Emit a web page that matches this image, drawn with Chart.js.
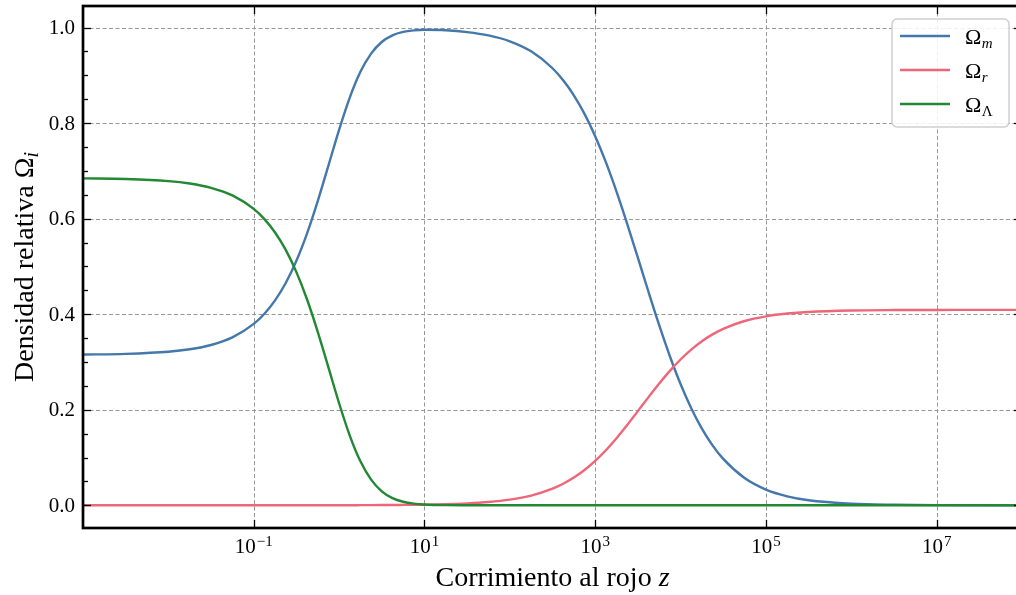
<!DOCTYPE html>
<html lang="es">
<head>
  <meta charset="UTF-8" />
  <title>Densidad relativa vs corrimiento al rojo</title>
  <script src="https://cdn.jsdelivr.net/npm/chart.js"></script>
  <style>
    html, body {
      margin: 0;
      padding: 0;
      background: #fff;
      overflow: hidden;
    }
    #wrap {
      width: 1040px;
      height: 595px;
    }
  </style>
</head>
<body>
  <div id="wrap">
    <canvas id="omegaChart" width="1040" height="595"></canvas>
  </div>

  <script>
    // redshift samples and the three density fractions
    const redshift = [
      0.001, 0.003162, 0.01, 0.01778, 0.03162, 0.05623, 0.1, 0.1334, 0.1778, 0.2371,
      0.3162, 0.4217, 0.5623, 0.7499, 1, 1.3335, 1.778, 2.371, 3.162, 4.217,
      5.623, 7.499, 10, 17.78, 31.62, 56.23, 100, 177.8, 316.2, 421.7,
      562.3, 749.9, 1000, 1334, 1778, 2371, 3162, 4217, 5623, 7499,
      10000, 13335, 17783, 23714, 31623, 56234, 100000, 177828, 316228, 1000000,
      3162278, 10000000, 100000000
    ];

    const omegaMatter = [
      0.3156, 0.3170, 0.3214, 0.3265, 0.3355, 0.3514, 0.3796, 0.4010, 0.4290, 0.4653,
      0.5117, 0.5691, 0.6366, 0.7111, 0.7859, 0.8534, 0.9072, 0.9454, 0.9696, 0.9834,
      0.9907, 0.9940, 0.9952, 0.9942, 0.9904, 0.9835, 0.9712, 0.9501, 0.9147, 0.8895,
      0.8579, 0.8192, 0.7726, 0.7182, 0.6566, 0.5892, 0.5182, 0.4464, 0.3769, 0.3120,
      0.2538, 0.2032, 0.1606, 0.1254, 0.0971, 0.0570, 0.0329, 0.0188, 0.0106, 0.0034,
      0.0011, 0.0003, 0.0000
    ];

    const omegaRad = [
      0.0000, 0.0000, 0.0000, 0.0000, 0.0000, 0.0000, 0.0000, 0.0000, 0.0001, 0.0001,
      0.0001, 0.0001, 0.0001, 0.0002, 0.0002, 0.0002, 0.0003, 0.0004, 0.0005, 0.0006,
      0.0008, 0.0010, 0.0013, 0.0022, 0.0039, 0.0068, 0.0118, 0.0204, 0.0349, 0.0452,
      0.0581, 0.0740, 0.0930, 0.1153, 0.1405, 0.1680, 0.1971, 0.2264, 0.2548, 0.2814,
      0.3052, 0.3259, 0.3433, 0.3577, 0.3693, 0.3857, 0.3955, 0.4013, 0.4046, 0.4076,
      0.4086, 0.4089, 0.4090
    ];

    const omegaLambda = [
      0.6843, 0.6829, 0.6785, 0.6734, 0.6644, 0.6485, 0.6203, 0.5989, 0.5709, 0.5345,
      0.4880, 0.4307, 0.3631, 0.2886, 0.2136, 0.1460, 0.0920, 0.0537, 0.0293, 0.0151,
      0.0074, 0.0035, 0.0016, 0.0003, 0.0001, 0.0000, 0.0000, 0.0000, 0.0000, 0.0000,
      0.0000, 0.0000, 0.0000, 0.0000, 0.0000, 0.0000, 0.0000, 0.0000, 0.0000, 0.0000,
      0.0000, 0.0000, 0.0000, 0.0000, 0.0000, 0.0000, 0.0000, 0.0000, 0.0000, 0.0000,
      0.0000, 0.0000, 0.0000
    ];

    const xTicks = [1e-1, 1e1, 1e3, 1e5, 1e7];
    const xTickExp = ['\u22121', '1', '3', '5', '7'];
    const yTicks = [0, 0.2, 0.4, 0.6, 0.8, 1.0];
    const yTickLabels = ['0.0', '0.2', '0.4', '0.6', '0.8', '1.0'];
    const yMinorTicks = [0.05, 0.1, 0.15, 0.25, 0.3, 0.35, 0.45, 0.5, 0.55, 0.65, 0.7, 0.75, 0.85, 0.9, 0.95];

    const legendItems = [
      { sub: 'm', italic: true, color: '#4477AA' },
      { sub: 'r', italic: true, color: '#EE6677' },
      { sub: '\u039B', italic: false, color: '#228833' }
    ];

    const SERIF = '"Liberation Serif", "DejaVu Serif", serif';

    function pts(vals) {
      return redshift.map((z, i) => ({ x: z, y: vals[i] }));
    }

    // grid, frame, inward ticks, tick labels, axis titles, legend
    const decorPlugin = {
      id: 'decor',
      beforeDatasetsDraw(chart) {
        const { ctx, chartArea: a, scales } = chart;
        ctx.save();
        ctx.strokeStyle = '#979797';
        ctx.lineWidth = 1;
        ctx.setLineDash([4, 2.5]);
        yTicks.forEach(v => {
          const y = Math.round(scales.y.getPixelForValue(v)) + 0.5;
          ctx.beginPath(); ctx.moveTo(a.left, y); ctx.lineTo(a.right, y); ctx.stroke();
        });
        xTicks.forEach(v => {
          const x = Math.round(scales.x.getPixelForValue(v)) + 0.5;
          ctx.beginPath(); ctx.moveTo(x, a.top); ctx.lineTo(x, a.bottom); ctx.stroke();
        });
        ctx.restore();
      },
      afterDatasetsDraw(chart) {
        const { ctx, chartArea: a, scales } = chart;
        ctx.save();
        ctx.strokeStyle = '#000';
        ctx.setLineDash([]);

        // inward tick marks on all four sides
        ctx.lineWidth = 1.3;
        const tick = (x1, y1, x2, y2) => {
          ctx.beginPath(); ctx.moveTo(x1, y1); ctx.lineTo(x2, y2); ctx.stroke();
        };
        yTicks.forEach(v => {
          const y = Math.round(scales.y.getPixelForValue(v)) + 0.5;
          tick(a.left, y, a.left + 8, y);
          tick(a.right, y, a.right - 8, y);
        });
        yMinorTicks.forEach(v => {
          const y = Math.round(scales.y.getPixelForValue(v)) + 0.5;
          tick(a.left, y, a.left + 5, y);
          tick(a.right, y, a.right - 5, y);
        });
        xTicks.forEach(v => {
          const x = Math.round(scales.x.getPixelForValue(v)) + 0.5;
          tick(x, a.bottom, x, a.bottom - 8);
          tick(x, a.top, x, a.top + 8);
        });

        // frame
        ctx.lineWidth = 2.7;
        ctx.strokeRect(a.left, a.top, a.right - a.left, a.bottom - a.top);
        ctx.restore();
      },
      afterDraw(chart) {
        const { ctx, chartArea: a, scales } = chart;
        ctx.save();
        ctx.fillStyle = '#000';

        // y tick labels
        ctx.font = '21px ' + SERIF;
        ctx.textAlign = 'right';
        ctx.textBaseline = 'middle';
        yTicks.forEach((v, i) => {
          ctx.fillText(yTickLabels[i], a.left - 8, scales.y.getPixelForValue(v) + 1);
        });

        ctx.textBaseline = 'alphabetic';
        ctx.textAlign = 'left';

        // x tick labels 10^n
        xTicks.forEach((v, i) => {
          const x = scales.x.getPixelForValue(v);
          ctx.font = '21px ' + SERIF;
          const wb = ctx.measureText('10').width;
          ctx.font = '15px ' + SERIF;
          const we = ctx.measureText(xTickExp[i]).width;
          const x0 = x - (wb + we + 1) / 2;
          ctx.font = '21px ' + SERIF;
          ctx.fillText('10', x0, 553);
          ctx.font = '15px ' + SERIF;
          ctx.fillText(xTickExp[i], x0 + wb + 1, 546);
        });

        // x title
        ctx.font = '28px ' + SERIF;
        const t1 = 'Corrimiento al rojo ';
        const w1 = ctx.measureText(t1).width;
        ctx.font = 'italic 28px ' + SERIF;
        const w2 = ctx.measureText('z').width;
        const cx = (a.left + a.right) / 2;
        ctx.font = '28px ' + SERIF;
        ctx.fillText(t1, cx - (w1 + w2) / 2, 586);
        ctx.font = 'italic 28px ' + SERIF;
        ctx.fillText('z', cx - (w1 + w2) / 2 + w1, 586);

        // y title (rotated)
        ctx.save();
        ctx.translate(33, (a.top + a.bottom) / 2);
        ctx.rotate(-Math.PI / 2);
        ctx.font = '28px ' + SERIF;
        const yt = 'Densidad relativa \u03A9';
        const wy = ctx.measureText(yt).width;
        ctx.font = 'italic 20px ' + SERIF;
        const wi = ctx.measureText('i').width;
        const y0 = -(wy + wi) / 2;
        ctx.font = '28px ' + SERIF;
        ctx.fillText(yt, y0, 0);
        ctx.font = 'italic 20px ' + SERIF;
        ctx.fillText('i', y0 + wy, 5);
        ctx.restore();

        // legend box
        const bx = 892, by = 19, bw = 117, bh = 108;
        ctx.beginPath();
        ctx.roundRect(bx, by, bw, bh, 5);
        ctx.fillStyle = 'rgba(255,255,255,0.85)';
        ctx.fill();
        ctx.strokeStyle = '#cfcfcf';
        ctx.lineWidth = 1.5;
        ctx.stroke();

        legendItems.forEach((it, i) => {
          const ly = 36 + i * 34;
          ctx.strokeStyle = it.color;
          ctx.lineWidth = 2.4;
          ctx.beginPath(); ctx.moveTo(900, ly); ctx.lineTo(950, ly); ctx.stroke();
          ctx.fillStyle = '#000';
          ctx.font = '22px ' + SERIF;
          ctx.fillText('\u03A9', 965, ly + 8);
          const wo = ctx.measureText('\u03A9').width;
          ctx.font = (it.italic ? 'italic ' : '') + '15px ' + SERIF;
          ctx.fillText(it.sub, 965 + wo + 0.5, ly + 12);
        });

        ctx.restore();
      }
    };

    const ctx = document.getElementById('omegaChart').getContext('2d');

    const chart = new Chart(ctx, {
      type: 'line',
      data: {
        datasets: [
          {
            label: '\u03A9m',
            data: pts(omegaMatter),
            borderColor: '#4477AA',
            order: 3
          },
          {
            label: '\u03A9r',
            data: pts(omegaRad),
            borderColor: '#EE6677',
            order: 2
          },
          {
            label: '\u03A9\u039B',
            data: pts(omegaLambda),
            borderColor: '#228833',
            order: 1
          }
        ]
      },
      options: {
        responsive: false,
        animation: false,
        events: [],
        layout: {
          padding: { left: 0, top: 6, right: 18, bottom: 0 }
        },
        elements: {
          line: {
            borderWidth: 2.4,
            cubicInterpolationMode: 'monotone',
            fill: false
          },
          point: { radius: 0 }
        },
        scales: {
          x: {
            type: 'logarithmic',
            min: 1e-3,
            max: 1e8,
            grid: { display: false },
            border: { display: false },
            ticks: { display: false },
            afterBuildTicks: scale => {
              scale.ticks = xTicks.map(v => ({ value: v }));
            },
            afterFit: scale => { scale.height = 67; }
          },
          y: {
            type: 'linear',
            min: -0.0475,
            max: 1.045,
            grid: { display: false },
            border: { display: false },
            ticks: { display: false },
            afterBuildTicks: scale => {
              scale.ticks = yTicks.map(v => ({ value: v }));
            },
            afterFit: scale => { scale.width = 83; }
          }
        },
        plugins: {
          legend: { display: false },
          tooltip: { enabled: false }
        }
      },
      plugins: [decorPlugin]
    });
  </script>
</body>
</html>
